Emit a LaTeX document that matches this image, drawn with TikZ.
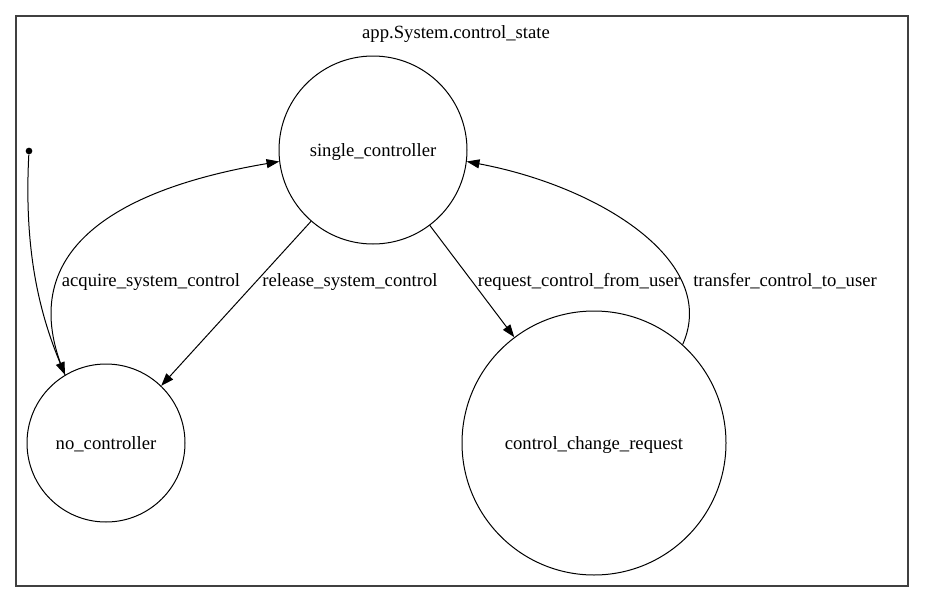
\documentclass[tikz,border=0pt]{standalone}
\usepackage{fontspec}
\setmainfont{Liberation Serif}
\usetikzlibrary{arrows.meta}
\tikzset{
	state/.style={draw, circle, line width=0.75pt, inner sep=0pt, text depth=0pt},
	initdot/.style={fill=black, circle, inner sep=0pt, minimum size=5pt},
	trans/.style={line width=0.75pt, -{Triangle[length=9.5pt,width=6.75pt]}},
	lbl/.style={inner sep=0pt, text depth=0pt}
}

\begin{document}
\begin{tikzpicture}[x=0.75pt, y=-0.75pt, font=\fontsize{14}{16}\selectfont]
			%%%%% START %%%%%
			\useasboundingbox (0, 0) rectangle (925, 603);
			
			\draw[line width=1pt, color=black!75] (16, 16) rectangle (908, 586);
			\node[lbl] (title) at (456, 32) {app.System.control\_state};
			
			\node[state, minimum size=141pt] (single) at (373, 150) {single\_controller};
			\node[state, minimum size=118.5pt] (none) at (106, 443) {no\_controller};
			\node[state, minimum size=198pt] (change) at (594, 443) {control\_change\_request};
			\node[initdot] (init) at (29, 151) {};
			
			\draw[trans] (init) .. controls +(-5, 96) and +(-27, -65) .. (none.121);
			\draw[trans] (none.121) .. controls +(-60, -140) and +(-130, 22) .. (single.187);
			\draw[trans] (single.229) -- (none.46);
			\draw[trans] (single.307) -- (change.127);
			\draw[trans] (change.48) .. controls +(37, -83) and +(133, 25) .. (single.-7);
			
			\node[lbl] (acq) at (151, 280) {acquire\_system\_control};
			\node[lbl] (rel) at (350, 280) {release\_system\_control};
			\node[lbl] (req) at (579, 280) {request\_control\_from\_user};
			\node[lbl] (xfer) at (785, 280) {transfer\_control\_to\_user};
			
			%%%%% END %%%%%
		\end{tikzpicture}
\end{document}
